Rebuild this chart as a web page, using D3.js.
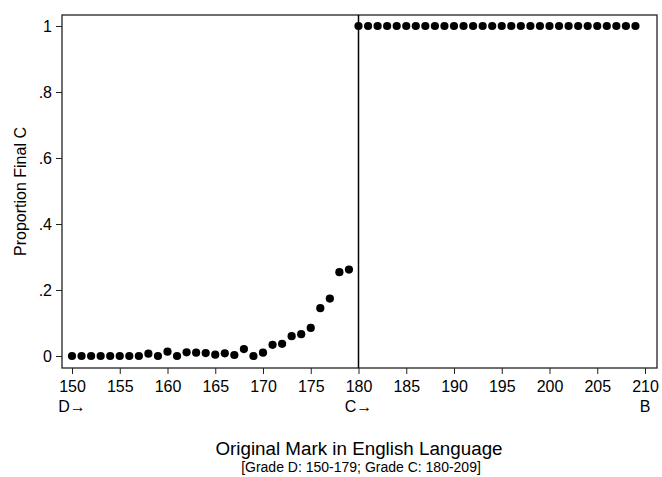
<!DOCTYPE html>
<html>
<head>
<meta charset="utf-8">
<script src="https://cdn.jsdelivr.net/npm/d3@7"></script>
<style>
  body { margin: 0; background: #fff; }
  text { font-family: "Liberation Sans", Arial, sans-serif; fill: #000; }
</style>
</head>
<body>
<div id="chart"></div>
<script>
// Data
var marks = d3.range(150, 210);
var propLow = [0, 0, 0, 0, 0, 0, 0, 0, 0.007, 0, 0.013, 0, 0.011, 0.01, 0.009, 0.004,
  0.008, 0.003, 0.021, 0, 0.01, 0.034, 0.037, 0.06, 0.066, 0.085, 0.145, 0.174, 0.254, 0.262];
var propHigh = d3.range(30).map(function() { return 1; });
var proportions = propLow.concat(propHigh);

var xTicks = [150, 155, 160, 165, 170, 175, 180, 185, 190, 195, 200, 205, 210];
var yTicks = [0, 0.2, 0.4, 0.6, 0.8, 1];
var gradeLabels = [{ x: 150, label: "D\u2192" }, { x: 180, label: "C\u2192" }, { x: 210, label: "B" }];
var cutoff = 180;

var W = 662, H = 477;
var frame = { left: 62, right: 657, top: 15, bottom: 368 };

var svg = d3.select("#chart").append("svg")
    .attr("width", W)
    .attr("height", H);

var x = d3.scaleLinear().domain([150, 210]).range([72, 645]);
var y = d3.scaleLinear().domain([0, 1]).range([356, 26]);

// frame
svg.append("rect")
    .attr("x", frame.left)
    .attr("y", frame.top)
    .attr("width", frame.right - frame.left)
    .attr("height", frame.bottom - frame.top)
    .attr("fill", "none")
    .attr("stroke", "#222")
    .attr("stroke-width", 1.3);

// y axis
var yAxis = svg.append("g")
    .attr("transform", "translate(" + frame.left + ",0)")
    .call(d3.axisLeft(y).tickValues(yTicks).tickSize(6).tickPadding(4)
      .tickFormat(function(d) { return d === 0 || d === 1 ? d3.format("d")(d) : d3.format(".1f")(d).replace(/^0/, ""); }));
yAxis.select(".domain").remove();
yAxis.selectAll("line").attr("stroke", "#222");
yAxis.selectAll("text").style("font-size", "16px").attr("fill", "#000");

// x axis
var xAxis = svg.append("g")
    .attr("transform", "translate(0," + frame.bottom + ")")
    .call(d3.axisBottom(x).tickValues(xTicks).tickSize(6).tickPadding(7).tickFormat(d3.format("d")));
xAxis.select(".domain").remove();
xAxis.selectAll("line").attr("stroke", "#222");
xAxis.selectAll("text").style("font-size", "16px").attr("fill", "#000");

// grade labels below ticks
svg.append("g").selectAll("text")
    .data(gradeLabels)
    .join("text")
    .attr("x", function(d) { return x(d.x); })
    .attr("y", 412)
    .attr("text-anchor", "middle")
    .style("font-size", "16px")
    .text(function(d) { return d.label; });

// cutoff line
svg.append("line")
    .attr("x1", x(cutoff)).attr("x2", x(cutoff))
    .attr("y1", frame.top).attr("y2", frame.bottom)
    .attr("stroke", "#000")
    .attr("stroke-width", 1.5);

// points
svg.append("g").selectAll("circle")
    .data(marks)
    .join("circle")
    .attr("cx", function(d) { return x(d); })
    .attr("cy", function(d, i) { return y(proportions[i]); })
    .attr("r", 4.1)
    .attr("fill", "#000");

// titles
svg.append("text")
    .attr("x", 359)
    .attr("y", 455)
    .attr("text-anchor", "middle")
    .style("font-size", "18.8px")
    .text("Original Mark in English Language");

svg.append("text")
    .attr("x", 361)
    .attr("y", 472)
    .attr("text-anchor", "middle")
    .style("font-size", "14px")
    .text("[Grade D: 150-179; Grade C: 180-209]");

svg.append("text")
    .attr("transform", "translate(26," + ((frame.top + frame.bottom) / 2) + ") rotate(-90)")
    .attr("text-anchor", "middle")
    .style("font-size", "16px")
    .text("Proportion Final C");
</script>
</body>
</html>
